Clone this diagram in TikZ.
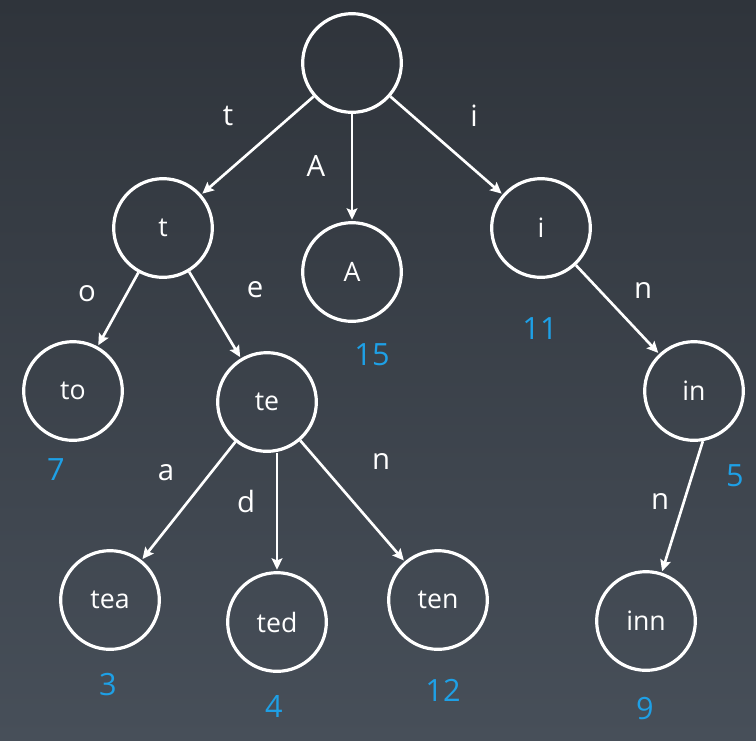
\documentclass[tikz,border=0pt]{standalone}
\usepackage{fontspec}
\setmainfont{Open Sans}
\usetikzlibrary{arrows.meta}
\definecolor{bgtop}{HTML}{2F343B}
\definecolor{bgbot}{HTML}{474F59}
\definecolor{countblue}{HTML}{1EA0E6}
\tikzset{
  trienode/.style={circle, draw=white, line width=2.4pt, minimum size=74pt, inner sep=0pt,
    text=white, font=\fontsize{20}{24}\selectfont},
  edgelbl/.style={text=white, font=\fontsize{22}{26}\selectfont, inner sep=0pt},
  countlbl/.style={text=countblue, font=\fontsize{23}{27}\selectfont, inner sep=0pt},
  link/.style={draw=white, line width=2pt, -{Stealth[length=8.5pt,width=8pt,inset=1.5pt]}, shorten >=1pt}
}
\begin{document}
\begin{tikzpicture}[x=0.75pt,y=-0.75pt]
  % backdrop
  \shade[top color=bgtop, bottom color=bgbot] (0,0) rectangle (756,740);
  \useasboundingbox (0,0) rectangle (756,740);

  % trie nodes
  \node[trienode] (root) at (352,63) {};
  \node[trienode] (t)    at (163,228) {t};
  \node[trienode] (A)    at (352,272) {A};
  \node[trienode] (i)    at (541,228) {i};
  \node[trienode] (to)   at (73,391) {to};
  \node[trienode] (te)   at (267,402) {te};
  \node[trienode] (in)   at (694,391) {in};
  \node[trienode] (tea)  at (110,600) {tea};
  \node[trienode] (ted)  at (277,622) {ted};
  \node[trienode] (ten)  at (438,600) {ten};
  \node[trienode] (inn)  at (646,621) {inn};

  % links
  \draw[link] (root) -- (t);
  \draw[link] (root) -- (A);
  \draw[link] (root) -- (i);
  \draw[link] (t) -- (to);
  \draw[link] (t) -- (te);
  \draw[link] (i) -- (in);
  \draw[link] (te) -- (tea);
  \draw[link] (te.south -| ted.north) -- (ted.north);
  \draw[link] (te) -- (ten);
  \draw[link] (in.-80) -- (inn.72);

  % link characters
  \node[edgelbl] (lt)  at (228,116) {t};
  \node[edgelbl] (lA)  at (316,166) {A};
  \node[edgelbl] (li)  at (474,116) {i};
  \node[edgelbl] (lo)  at (87,294) {o};
  \node[edgelbl] (le)  at (255,290) {e};
  \node[edgelbl] (ln1) at (643,290) {n};
  \node[edgelbl] (la)  at (166,473) {a};
  \node[edgelbl] (ld)  at (246,501) {d};
  \node[edgelbl] (ln2) at (381,461) {n};
  \node[edgelbl] (ln3) at (660,501) {n};

  % stored values
  \node[countlbl] (v7)  at (56,470) {7};
  \node[countlbl] (v15) at (372,355) {15};
  \node[countlbl] (v11) at (540,329) {11};
  \node[countlbl] (v5)  at (735,476) {5};
  \node[countlbl] (v3)  at (108,685) {3};
  \node[countlbl] (v4)  at (274,706) {4};
  \node[countlbl] (v12) at (443,690) {12};
  \node[countlbl] (v9)  at (645,709) {9};
\end{tikzpicture}
\end{document}
